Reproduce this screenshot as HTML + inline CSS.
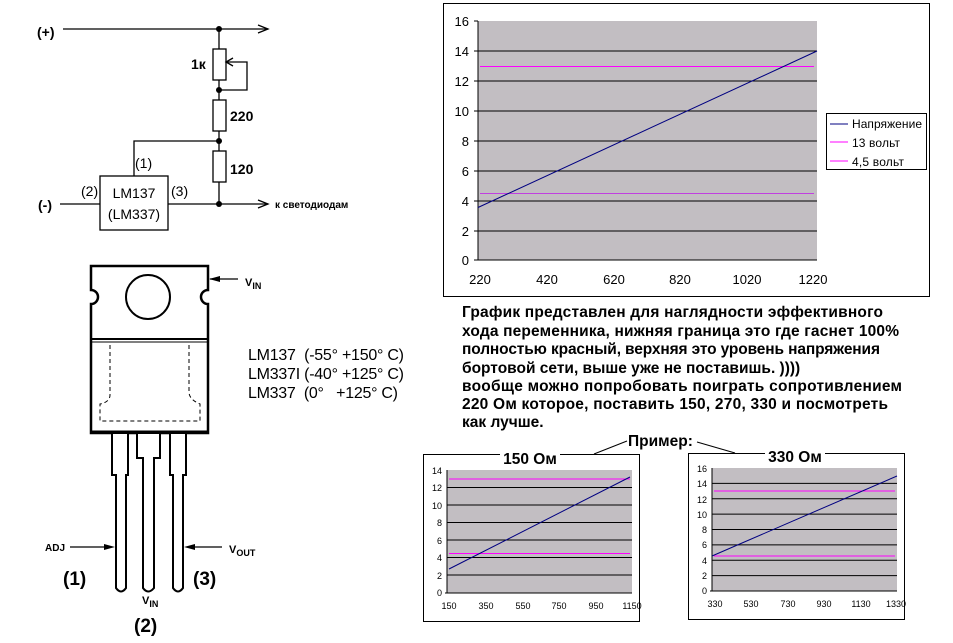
<!DOCTYPE html>
<html><head><meta charset="utf-8"><style>
html,body{margin:0;padding:0;background:#fff;}
svg{display:block;font-family:"Liberation Sans",Arial,sans-serif;}
</style></head><body>
<svg width="953" height="643" viewBox="0 0 953 643" xmlns="http://www.w3.org/2000/svg">
<g stroke="#000" stroke-width="1.3" fill="none">
<line x1="63" y1="29" x2="268" y2="29"/>
<polyline points="258,25 268,29 258,33"/>
<line x1="219" y1="29" x2="219" y2="49"/>
<rect x="213" y="49" width="13" height="31" fill="#fff"/>
<line x1="219" y1="80" x2="219" y2="100"/>
<polyline points="226,62 247,62 247,90 219,90"/>
<polyline points="233,58 226,62 233,66"/>
<rect x="213" y="100" width="13" height="31" fill="#fff"/>
<line x1="219" y1="131" x2="219" y2="151"/>
<polyline points="134,176 134,141 219,141"/>
<rect x="213" y="151" width="13" height="31" fill="#fff"/>
<line x1="219" y1="182" x2="219" y2="204"/>
<line x1="60" y1="204" x2="100" y2="204"/>
<line x1="168" y1="204" x2="268" y2="204"/>
<polyline points="258,200 268,204 258,208"/>
<rect x="100" y="176" width="68" height="54" fill="#fff"/>
</g>
<g fill="#000">
<circle cx="219" cy="29" r="3"/><circle cx="219" cy="90" r="3"/>
<circle cx="219" cy="141" r="3"/><circle cx="219" cy="204" r="3"/>
</g>
<g font-size="14" fill="#000">
<text x="37" y="37" font-weight="bold">(+)</text>
<text x="38" y="210" font-weight="bold">(-)</text>
<text x="191" y="69" font-weight="bold">1к</text>
<text x="230" y="121" font-weight="bold">220</text>
<text x="230" y="174" font-weight="bold">120</text>
<text x="135" y="168">(1)</text>
<text x="81" y="196">(2)</text>
<text x="171" y="196">(3)</text>
<text x="134" y="198" text-anchor="middle">LM137</text>
<text x="134" y="219" text-anchor="middle">(LM337)</text>
<text x="275" y="208" font-size="10" font-weight="bold">к светодиодам</text>
</g>

<g stroke="#000" fill="none">
<path d="M91,266 H208 V290 A7,7 0 0 0 208,304 V433 H91 V304 A7,7 0 0 0 91,290 Z" stroke-width="2.5" fill="#fff"/>
<line x1="91" y1="339" x2="208" y2="339" stroke-width="2"/>
<line x1="91" y1="342" x2="208" y2="342" stroke-width="1"/>
<circle cx="148" cy="297" r="22" stroke-width="2"/>
<path d="M110,345 V395 Q110,402 100,404 V421 H200 V404 Q190,400 189,393 V345" stroke-width="1" stroke-dasharray="4,3"/>
<line x1="91" y1="432" x2="208" y2="432" stroke-width="3"/>
<g stroke-width="2" fill="#fff">
<path d="M112,434 V475 H116 V588 Q121,595 126,588 V475 H128 V434"/>
<path d="M137,434 V458 H143 V588 Q148,595 154,588 V458 H160 V434"/>
<path d="M170,434 V475 H173 V588 Q178,595 183,588 V475 H186 V434"/>
</g>
<line x1="210" y1="279" x2="238" y2="279" stroke-width="1.2"/>
<line x1="70" y1="547" x2="110" y2="547" stroke-width="1.2"/>
<line x1="190" y1="547" x2="222" y2="547" stroke-width="1.2"/>
</g>
<g fill="#000">
<polygon points="209,279 220,276 220,282"/>
<polygon points="115,547 104,544 104,550"/>
<polygon points="184,547 195,544 195,550"/>
</g>
<g fill="#000" font-weight="bold">
<text x="245" y="286" font-size="11">V<tspan font-size="9" dy="3">IN</tspan></text>
<text x="45" y="551" font-size="10">ADJ</text>
<text x="229" y="553" font-size="11">V<tspan font-size="9" dy="3">OUT</tspan></text>
<text x="142" y="604" font-size="11">V<tspan font-size="9" dy="3">IN</tspan></text>
<text x="63" y="585" font-size="19">(1)</text>
<text x="193" y="585" font-size="19">(3)</text>
<text x="134" y="632" font-size="19">(2)</text>
</g>
<g fill="#000" font-size="16">
<text x="248" y="360" textLength="156">LM137&#160; (-55° +150° C)</text>
<text x="248" y="379" textLength="156">LM337I (-40° +125° C)</text>
<text x="248" y="398" textLength="150">LM337&#160; (0°&#160;&#160; +125° C)</text>
</g>

<rect x="443.5" y="3.5" width="486" height="293" fill="#fff" stroke="#000"/>
<rect x="478" y="21" width="339" height="239" fill="#c2bec2"/>
<g stroke="#000" stroke-width="1">
<line x1="478" y1="51" x2="817" y2="51"/><line x1="478" y1="81" x2="817" y2="81"/>
<line x1="478" y1="111" x2="817" y2="111"/><line x1="478" y1="141" x2="817" y2="141"/>
<line x1="478" y1="171" x2="817" y2="171"/><line x1="478" y1="201" x2="817" y2="201"/>
<line x1="478" y1="231" x2="817" y2="231"/>
<line x1="478" y1="21" x2="478" y2="260"/><line x1="474" y1="260" x2="817" y2="260"/>
<line x1="474" y1="21" x2="478" y2="21"/><line x1="474" y1="51" x2="478" y2="51"/>
<line x1="474" y1="81" x2="478" y2="81"/><line x1="474" y1="111" x2="478" y2="111"/>
<line x1="474" y1="141" x2="478" y2="141"/><line x1="474" y1="171" x2="478" y2="171"/>
<line x1="474" y1="201" x2="478" y2="201"/><line x1="474" y1="231" x2="478" y2="231"/>
</g>
<line x1="480" y1="66.5" x2="814" y2="66.5" stroke="#ff00ff"/>
<line x1="480" y1="193.5" x2="814" y2="193.5" stroke="#c040e0"/>
<line x1="478" y1="207.5" x2="817" y2="51" stroke="#000080"/>
<g font-size="13" fill="#000" text-anchor="end">
<text x="469" y="26">16</text><text x="469" y="56">14</text><text x="469" y="86">12</text>
<text x="469" y="116">10</text><text x="469" y="146">8</text><text x="469" y="176">6</text>
<text x="469" y="206">4</text><text x="469" y="236">2</text><text x="469" y="265">0</text>
</g>
<g font-size="13" fill="#000" text-anchor="middle">
<text x="480" y="284">220</text><text x="547" y="284">420</text><text x="614" y="284">620</text>
<text x="680" y="284">820</text><text x="747" y="284">1020</text><text x="813" y="284">1220</text>
</g>
<rect x="826.5" y="113.5" width="100" height="56" fill="#fff" stroke="#000"/>
<line x1="830" y1="124" x2="848" y2="124" stroke="#000080"/>
<line x1="830" y1="142" x2="848" y2="142" stroke="#ff00ff"/>
<line x1="830" y1="161" x2="848" y2="161" stroke="#ff00ff"/>
<g font-size="12" fill="#000">
<text x="852" y="128" textLength="70">Напряжение</text>
<text x="852" y="147" textLength="48">13 вольт</text>
<text x="852" y="166" textLength="52">4,5 вольт</text>
</g>

<g font-size="15.5" font-weight="bold" fill="#000">
<text x="462" y="317" textLength="421">График представлен для наглядности эффективного</text>
<text x="462" y="336" textLength="437">хода переменника, нижняя граница это где гаснет 100%</text>
<text x="462" y="354" textLength="418">полностью красный, верхняя это уровень напряжения</text>
<text x="462" y="373">бортовой сети, выше уже не поставишь. ))))</text>
<text x="462" y="391" textLength="440">вообще можно попробовать поиграть сопротивлением</text>
<text x="462" y="409" textLength="426">220 Ом которое, поставить 150, 270, 330 и посмотреть</text>
<text x="462" y="427">как лучше.</text>
</g>

<rect x="423.5" y="454.5" width="216" height="167" fill="#fff" stroke="#000"/>
<rect x="500" y="446" width="60" height="18" fill="#fff"/>
<text x="530" y="464" font-size="15.5" font-weight="bold" text-anchor="middle">150 Ом</text>
<rect x="447" y="470" width="185" height="123" fill="#c2bec2"/>
<g stroke="#000">
<line x1="447" y1="487.5" x2="632" y2="487.5"/><line x1="447" y1="505" x2="632" y2="505"/>
<line x1="447" y1="522.5" x2="632" y2="522.5"/><line x1="447" y1="540" x2="632" y2="540"/>
<line x1="447" y1="557.5" x2="632" y2="557.5"/><line x1="447" y1="575" x2="632" y2="575"/>
<line x1="447" y1="470" x2="447" y2="593"/><line x1="445" y1="593" x2="632" y2="593"/>
</g>
<line x1="449" y1="479" x2="630" y2="479" stroke="#ff00ff"/>
<line x1="449" y1="553.5" x2="630" y2="553.5" stroke="#ff00ff"/>
<line x1="449" y1="569" x2="630" y2="477" stroke="#000080"/>
<g font-size="9" fill="#000" text-anchor="end">
<text x="442" y="474">14</text><text x="442" y="491">12</text><text x="442" y="509">10</text>
<text x="442" y="526">8</text><text x="442" y="544">6</text><text x="442" y="561">4</text>
<text x="442" y="579">2</text><text x="442" y="596">0</text>
</g>
<g font-size="9" fill="#000" text-anchor="middle">
<text x="449" y="609">150</text><text x="486" y="609">350</text><text x="523" y="609">550</text>
<text x="559" y="609">750</text><text x="596" y="609">950</text><text x="632" y="609">1150</text>
</g>

<rect x="688.5" y="453.5" width="216" height="166" fill="#fff" stroke="#000"/>
<rect x="765" y="445" width="60" height="18" fill="#fff"/>
<text x="795" y="462" font-size="15.5" font-weight="bold" text-anchor="middle">330 Ом</text>
<rect x="712" y="468" width="185" height="123" fill="#c2bec2"/>
<g stroke="#000">
<line x1="712" y1="483.4" x2="897" y2="483.4"/><line x1="712" y1="498.8" x2="897" y2="498.8"/>
<line x1="712" y1="514.1" x2="897" y2="514.1"/><line x1="712" y1="529.5" x2="897" y2="529.5"/>
<line x1="712" y1="544.9" x2="897" y2="544.9"/><line x1="712" y1="560.2" x2="897" y2="560.2"/>
<line x1="712" y1="575.6" x2="897" y2="575.6"/>
<line x1="712" y1="468" x2="712" y2="591"/><line x1="710" y1="591" x2="897" y2="591"/>
</g>
<line x1="714" y1="491" x2="895" y2="491" stroke="#ff00ff"/>
<line x1="714" y1="556" x2="895" y2="556" stroke="#ff00ff"/>
<line x1="712" y1="556" x2="897" y2="476" stroke="#000080"/>
<g font-size="9" fill="#000" text-anchor="end">
<text x="707" y="472">16</text><text x="707" y="487">14</text><text x="707" y="503">12</text>
<text x="707" y="518">10</text><text x="707" y="533">8</text><text x="707" y="548">6</text>
<text x="707" y="564">4</text><text x="707" y="579">2</text><text x="707" y="594">0</text>
</g>
<g font-size="9" fill="#000" text-anchor="middle">
<text x="715" y="607">330</text><text x="751" y="607">530</text><text x="788" y="607">730</text>
<text x="824" y="607">930</text><text x="861" y="607">1130</text><text x="896" y="607">1330</text>
</g>

<text x="628" y="446" font-size="15.5" font-weight="bold">Пример:</text>
<line x1="627" y1="441" x2="594" y2="454" stroke="#000"/>
<line x1="697" y1="442" x2="735" y2="453" stroke="#000"/>
</svg>
</body></html>
